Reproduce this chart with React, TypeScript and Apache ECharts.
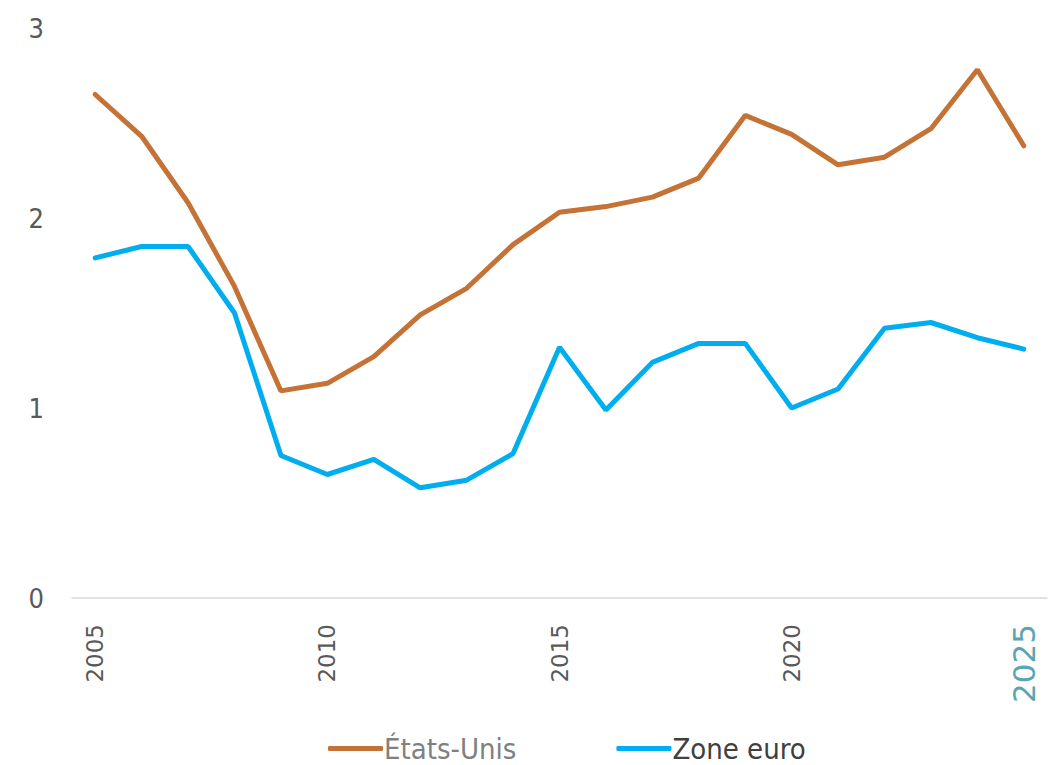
import React, { useEffect, useRef } from "react";
import * as echarts from "echarts";

const years = [
  "2005", "2006", "2007", "2008", "2009", "2010", "2011", "2012", "2013", "2014",
  "2015", "2016", "2017", "2018", "2019", "2020", "2021", "2022", "2023", "2024", "2025",
];
const etatsUnis = [
  2.65, 2.43, 2.08, 1.64, 1.09, 1.13, 1.27, 1.49, 1.63, 1.86,
  2.03, 2.06, 2.11, 2.21, 2.54, 2.44, 2.28, 2.32, 2.47, 2.78, 2.38,
];
const zoneEuro = [
  1.79, 1.85, 1.85, 1.5, 0.75, 0.65, 0.73, 0.58, 0.62, 0.76,
  1.32, 0.99, 1.24, 1.34, 1.34, 1.0, 1.1, 1.42, 1.45, 1.37, 1.31,
];
const seriesNames = ["États-Unis", "Zone euro"];

const condensed = "'DejaVu Sans Condensed', 'Roboto', sans-serif";

export default function App() {
  const ref = useRef<HTMLDivElement>(null);
  useEffect(() => {
    if (!ref.current) return;
    const chart = echarts.init(ref.current, undefined, { renderer: "svg" });
    chart.setOption({
      animation: false,
      backgroundColor: "#ffffff",
      grid: { left: 64, right: 8, top: 20, bottom: 167 },
      xAxis: {
        type: "category",
        data: years,
        boundaryGap: true,
        axisLine: { lineStyle: { color: "#d9d9d9", width: 1.5 } },
        axisTick: { show: false },
        axisLabel: {
          rotate: 90,
          interval: (i: number) => i % 5 === 0,
          margin: 26,
          fontFamily: "DejaVu Sans",
          fontSize: 23,
          color: "#595959",
          formatter: (v: string) => (v === "2025" ? "{hl|" + v + "}" : v),
          rich: {
            hl: { fontFamily: "DejaVu Sans", fontSize: 31, color: "#5aa5b4" },
          },
        },
      },
      yAxis: {
        type: "value",
        min: 0,
        max: 3,
        interval: 1,
        splitLine: { show: false },
        axisLine: { show: false },
        axisTick: { show: false },
        axisLabel: {
          margin: 28,
          fontFamily: condensed,
          fontSize: 27,
          color: "#595959",
        },
      },
      legend: {
        top: 721,
        left: 315,
        itemWidth: 55,
        itemHeight: 5,
        itemGap: 100,
        icon: "roundRect",
        textStyle: { fontFamily: condensed, fontSize: 29, padding: [0, 0, 0, -4] },
        data: [
          { name: seriesNames[0], textStyle: { color: "#808080" } },
          { name: seriesNames[1], textStyle: { color: "#404040" } },
        ],
      },
      series: [
        {
          name: seriesNames[0],
          type: "line",
          data: etatsUnis,
          showSymbol: false,
          symbol: "none",
          lineStyle: { color: "#c47235", width: 5, cap: "round" },
          itemStyle: { color: "#c47235" },
        },
        {
          name: seriesNames[1],
          type: "line",
          data: zoneEuro,
          showSymbol: false,
          symbol: "none",
          lineStyle: { color: "#00aeef", width: 5, cap: "round" },
          itemStyle: { color: "#00aeef" },
        },
      ],
    });
    return () => chart.dispose();
  }, []);
  return <div ref={ref} style={{ width: 1047, height: 757 }} />;
}
